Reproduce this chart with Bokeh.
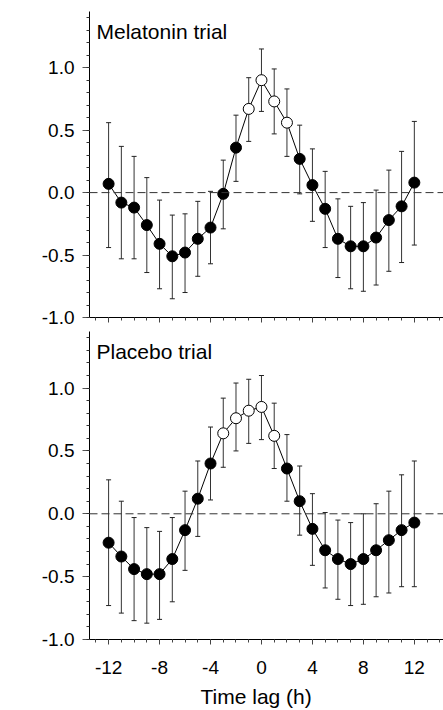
from bokeh.plotting import figure
from bokeh.layouts import column
from bokeh.models import (ColumnDataSource, Whisker, TeeHead, Span, Label,
                          Range1d, FixedTicker, CustomLabelingPolicy, Title)
from bokeh.embed import file_html
from bokeh.resources import INLINE

# ---------------- data ----------------
lags = list(range(-12, 13))

mel_r = [0.07, -0.08, -0.12, -0.26, -0.41, -0.51, -0.48, -0.37, -0.28, -0.01,
         0.36, 0.67, 0.90, 0.73, 0.56, 0.27, 0.06, -0.13, -0.37, -0.43,
         -0.43, -0.36, -0.22, -0.11, 0.08]
mel_hi = [0.56, 0.37, 0.29, 0.12, -0.06, -0.18, -0.17, -0.07, 0.01, 0.26,
          0.62, 0.92, 1.15, 0.99, 0.83, 0.54, 0.35, 0.17, -0.05, -0.11,
          -0.08, 0.02, 0.18, 0.33, 0.57]
mel_lo = [-0.44, -0.53, -0.53, -0.64, -0.77, -0.85, -0.80, -0.67, -0.57, -0.29,
          0.09, 0.41, 0.65, 0.47, 0.29, -0.01, -0.23, -0.44, -0.68, -0.77,
          -0.79, -0.74, -0.63, -0.56, -0.42]
mel_open = [False] * 11 + [True] * 4 + [False] * 10

pla_r = [-0.23, -0.34, -0.44, -0.48, -0.48, -0.36, -0.13, 0.12, 0.40, 0.64,
         0.76, 0.82, 0.85, 0.62, 0.36, 0.10, -0.12, -0.29, -0.36, -0.40,
         -0.36, -0.29, -0.21, -0.13, -0.07]
pla_hi = [0.27, 0.10, -0.03, -0.11, -0.14, -0.03, 0.18, 0.42, 0.69, 0.92,
          1.04, 1.07, 1.10, 0.88, 0.63, 0.38, 0.16, 0.01, -0.05, -0.07,
          0.00, 0.08, 0.18, 0.31, 0.42]
pla_lo = [-0.73, -0.79, -0.85, -0.87, -0.84, -0.70, -0.45, -0.18, 0.11, 0.37,
          0.50, 0.56, 0.59, 0.36, 0.10, -0.17, -0.41, -0.59, -0.68, -0.73,
          -0.72, -0.66, -0.63, -0.58, -0.58]
pla_open = [False] * 9 + [True] * 5 + [False] * 11

y_major = [-1.0, -0.5, 0.0, 0.5, 1.0]
y_labels = ["-1.0", "-0.5", "0.0", "0.5", "1.0"]
y_minor = [round(-1.0 + 0.1 * i, 1) for i in range(25)]
x_major = [-12, -8, -4, 0, 4, 8, 12]
x_labels = ["-12", "-8", "-4", "0", "4", "8", "12"]
x_minor = list(range(-13, 15))

titles = ["Melatonin trial", "Placebo trial"]
x_title = "Time lag (h)"
y_title = "r"

FONT = "Liberation Sans"


def make_panel(r, lo, hi, is_open, title, bottom):
    src = ColumnDataSource(dict(
        lag=lags, r=r, lo=lo, hi=hi,
        fill=["white" if o else "black" for o in is_open]))
    p = figure(frame_width=354, frame_height=308 if bottom else 306,
               x_range=Range1d(-13.5, 14.29), y_range=Range1d(-1.0, 1.45),
               output_backend="svg", toolbar_location=None,
               min_border_left=89, min_border_right=0,
               min_border_top=3 if bottom else 11,
               min_border_bottom=0 if bottom else 11)
    p.grid.visible = False
    p.outline_line_color = None
    p.background_fill_color = "white"
    p.border_fill_color = "white"

    # y axis
    ya = p.yaxis[0]
    ya.ticker = FixedTicker(ticks=y_major, minor_ticks=y_minor)
    ya.major_label_overrides = {t: l for t, l in zip(y_major, y_labels)}
    ya.major_label_text_font = FONT
    ya.major_label_text_font_size = "19px"
    ya.major_label_text_color = "black"
    ya.major_label_standoff = 8
    ya.major_tick_out = 7
    ya.major_tick_in = 0
    ya.minor_tick_out = 3
    ya.minor_tick_in = 0
    ya.axis_line_color = "black"
    ya.major_tick_line_color = "#555555"
    ya.minor_tick_line_color = "#333333"

    # x axis
    xa = p.xaxis[0]
    xa.ticker = FixedTicker(ticks=x_major, minor_ticks=x_minor)
    xa.major_tick_out = 5
    xa.major_tick_in = 0
    xa.minor_tick_out = 3
    xa.minor_tick_in = 0
    xa.axis_line_color = "black"
    xa.major_tick_line_color = "#444444"
    xa.minor_tick_line_color = "#444444"
    if bottom:
        xa.major_label_overrides = {t: l for t, l in zip(x_major, x_labels)}
        xa.major_label_text_font = FONT
        xa.major_label_text_font_size = "19px"
        xa.major_label_text_color = "black"
        xa.major_label_standoff = 16
        p.add_layout(Title(text=x_title, align="left", offset=111,
                           text_font=FONT, text_font_size="21px",
                           text_font_style="normal", text_color="black",
                           standoff=13), "below")
    else:
        xa.major_label_text_font_size = "0px"
        xa.major_label_standoff = 0
        xa.major_label_policy = CustomLabelingPolicy(
            code="for (const i of indices) indices.unset(i); return indices")

    # zero reference line
    p.add_layout(Span(location=0, dimension="width", line_color="#333333",
                      line_width=1, line_dash="8 4"))

    # error bars
    p.add_layout(Whisker(base="lag", lower="lo", upper="hi", source=src,
                         line_color="#333333", line_width=1,
                         upper_head=TeeHead(size=5, line_color="#222222", line_width=1),
                         lower_head=TeeHead(size=5, line_color="#222222", line_width=1)))

    p.line("lag", "r", source=src, line_color="black", line_width=1)
    p.scatter("lag", "r", source=src, size=11, fill_color="fill",
              line_color="black", line_width=1)

    p.add_layout(Label(x=-12.95, y=1.29, text=title, text_font=FONT,
                       text_font_size="21px", text_color="black",
                       text_baseline="middle", text_align="left"))
    p.add_layout(Label(x=-18.9, y=0.26, text=y_title, text_font=FONT,
                       text_font_size="20px", text_font_style="italic",
                       text_color="black", text_baseline="middle",
                       text_align="center"))
    return p


p1 = make_panel(mel_r, mel_lo, mel_hi, mel_open, titles[0], False)
p2 = make_panel(pla_r, pla_lo, pla_hi, pla_open, titles[1], True)

layout = column(p1, p2, spacing=0)
open("out.html", "w").write(file_html(layout, INLINE))
